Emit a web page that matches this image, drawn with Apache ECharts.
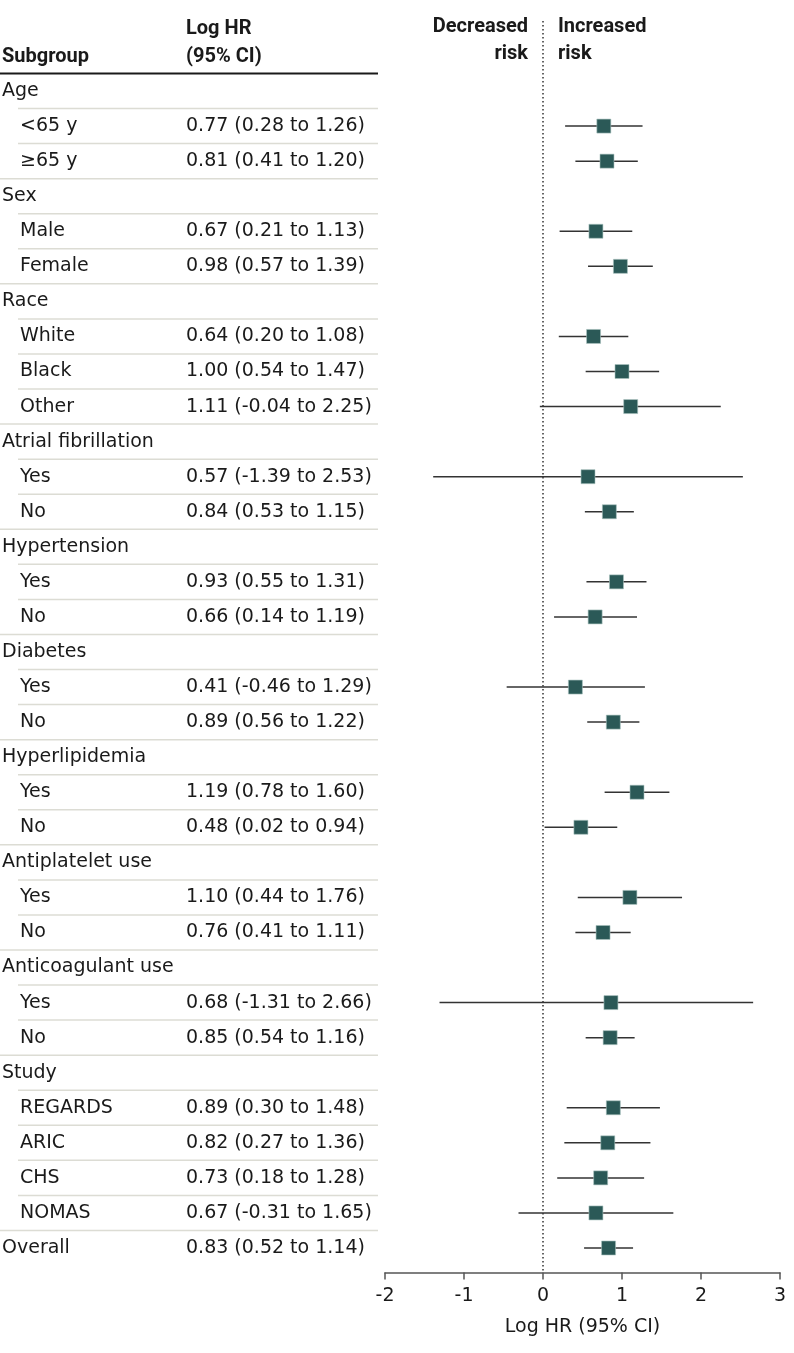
<!DOCTYPE html>
<html><head><meta charset="utf-8">
<script src="https://cdn.jsdelivr.net/npm/echarts@6/dist/echarts.min.js"></script>
<style>html,body{margin:0;padding:0;background:#fff}#c{width:794px;height:1353px}</style>
</head><body><div id="c"></div>
<script>
// ---------- data ----------
const subgroups = ['Age','<65 y','≥65 y','Sex','Male','Female','Race','White','Black','Other',
  'Atrial fibrillation','Yes','No','Hypertension','Yes','No','Diabetes','Yes','No',
  'Hyperlipidemia','Yes','No','Antiplatelet use','Yes','No','Anticoagulant use','Yes','No',
  'Study','REGARDS','ARIC','CHS','NOMAS','Overall'];
const indentLevel = [0,1,1,0,1,1,0,1,1,1,0,1,1,0,1,1,0,1,1,0,1,1,0,1,1,0,1,1,0,1,1,1,1,0];
const estLabels = ['','0.77 (0.28 to 1.26)','0.81 (0.41 to 1.20)','','0.67 (0.21 to 1.13)','0.98 (0.57 to 1.39)',
  '','0.64 (0.20 to 1.08)','1.00 (0.54 to 1.47)','1.11 (-0.04 to 2.25)',
  '','0.57 (-1.39 to 2.53)','0.84 (0.53 to 1.15)','','0.93 (0.55 to 1.31)','0.66 (0.14 to 1.19)',
  '','0.41 (-0.46 to 1.29)','0.89 (0.56 to 1.22)','','1.19 (0.78 to 1.60)','0.48 (0.02 to 0.94)',
  '','1.10 (0.44 to 1.76)','0.76 (0.41 to 1.11)','','0.68 (-1.31 to 2.66)','0.85 (0.54 to 1.16)',
  '','0.89 (0.30 to 1.48)','0.82 (0.27 to 1.36)','0.73 (0.18 to 1.28)','0.67 (-0.31 to 1.65)','0.83 (0.52 to 1.14)'];
// plotted point estimates (as drawn in the figure)
const est = [null,0.77,0.81,null,0.67,0.98,null,0.64,1.00,1.11,null,0.57,0.84,null,0.93,0.66,
  null,0.41,0.89,null,1.19,0.48,null,1.10,0.76,null,0.86,0.85,null,0.89,0.82,0.73,0.67,0.83];
const lo = [null,0.28,0.41,null,0.21,0.57,null,0.20,0.54,-0.04,null,-1.39,0.53,null,0.55,0.14,
  null,-0.46,0.56,null,0.78,0.02,null,0.44,0.41,null,-1.31,0.54,null,0.30,0.27,0.18,-0.31,0.52];
const hi = [null,1.26,1.20,null,1.13,1.39,null,1.08,1.47,2.25,null,2.53,1.15,null,1.31,1.19,
  null,1.29,1.22,null,1.60,0.94,null,1.76,1.11,null,2.66,1.16,null,1.48,1.36,1.28,1.65,1.14];
const xTicks = [-2,-1,0,1,2,3];
const headerTexts = {subgroup:'Subgroup', est1:'Log HR', est2:'(95% CI)', dec1:'Decreased', dec2:'risk', inc1:'Increased', inc2:'risk'};
const axisTitle = 'Log HR (95% CI)';

// ---------- layout ----------
const FONT = '"DejaVu Sans", sans-serif';
const HF = 'bold 20px Roboto, "DejaVu Sans Condensed", sans-serif';
const TXT = '#1a1a1a';
const ROW = 35.06, TOP = 73.5, N = subgroups.length;
const PLOT_YMIN = -1.5, PLOT_YMAX = 34.2;
const plotTop = TOP + PLOT_YMIN * ROW;
const plotH = (PLOT_YMAX - PLOT_YMIN) * ROW;

const chart = echarts.init(document.getElementById('c'), null, {renderer:'canvas'});

const tableData = subgroups.map((s, i) => [0, i]);
const ciData = [], ptData = [];
est.forEach((v, i) => {
  if (v !== null) { ciData.push([lo[i], hi[i], i + 0.5]); ptData.push([v, i + 0.5]); }
});

chart.setOption({
  animation: false,
  backgroundColor: '#fff',
  grid: [
    {left: 0, width: 378, top: TOP, height: N * ROW},
    {left: 385, width: 395, top: plotTop, height: plotH}
  ],
  xAxis: [
    {gridIndex: 0, type: 'value', min: 0, max: 378, show: false},
    {gridIndex: 1, type: 'value', min: xTicks[0], max: xTicks[xTicks.length - 1], interval: 1,
     position: 'bottom',
     axisLine: {show: true, onZero: false, lineStyle: {color: '#555', width: 1.5}},
     axisTick: {show: true, length: 7, lineStyle: {color: '#555', width: 1.5}},
     axisLabel: {fontSize: 19, fontFamily: FONT, color: TXT, margin: 14},
     splitLine: {show: false},
     name: axisTitle, nameLocation: 'middle', nameGap: 45,
     nameTextStyle: {fontSize: 19, fontFamily: FONT, color: TXT}}
  ],
  yAxis: [
    {gridIndex: 0, type: 'value', min: 0, max: N, inverse: true, show: false},
    {gridIndex: 1, type: 'value', min: PLOT_YMIN, max: PLOT_YMAX, inverse: true, show: false}
  ],
  graphic: [
    {type: 'text', left: 2, top: 47, style: {text: headerTexts.subgroup, font: HF, fill: TXT}},
    {type: 'text', left: 186, top: 18.5, style: {text: headerTexts.est1, font: HF, fill: TXT}},
    {type: 'text', left: 186, top: 46.5, style: {text: headerTexts.est2, font: HF, fill: TXT}},
    {type: 'text', right: 794 - 528, top: 17, style: {text: headerTexts.dec1, font: HF, fill: TXT, align: 'right'}},
    {type: 'text', right: 794 - 528, top: 43.5, style: {text: headerTexts.dec2, font: HF, fill: TXT, align: 'right'}},
    {type: 'text', left: 558, top: 17, style: {text: headerTexts.inc1, font: HF, fill: TXT}},
    {type: 'text', left: 558, top: 43.5, style: {text: headerTexts.inc2, font: HF, fill: TXT}}
  ],
  series: [
    {
      type: 'custom', xAxisIndex: 0, yAxisIndex: 0, silent: true,
      data: tableData,
      encode: {x: 0, y: 1},
      renderItem: function (params, api) {
        const i = api.value(1);
        const mid = api.coord([0, i + 0.5])[1];
        const children = [];
        const xName = api.coord([indentLevel[i] ? 20 : 2, 0])[0];
        children.push({type: 'text', style: {text: subgroups[i], x: xName, y: mid, font: '19px ' + FONT, fill: TXT, align: 'left', verticalAlign: 'middle'}});
        if (estLabels[i]) {
          children.push({type: 'text', style: {text: estLabels[i], x: api.coord([186, 0])[0], y: mid, font: '19px ' + FONT, fill: TXT, align: 'left', verticalAlign: 'middle'}});
        }
        if (i === 0) {
          const yt = api.coord([0, 0])[1];
          children.push({type: 'line', shape: {x1: api.coord([0, 0])[0], y1: yt, x2: api.coord([378, 0])[0], y2: yt}, style: {stroke: '#1a1a1a', lineWidth: 2}});
        }
        if (i < N - 1) {
          const yb = api.coord([0, i + 1])[1];
          const x0 = api.coord([indentLevel[i + 1] ? 18 : 0, 0])[0];
          children.push({type: 'line', shape: {x1: x0, y1: yb, x2: api.coord([378, 0])[0], y2: yb}, style: {stroke: '#dcdcd4', lineWidth: 1.5}});
        }
        return {type: 'group', children: children};
      }
    },
    {
      type: 'custom', xAxisIndex: 1, yAxisIndex: 1, silent: true, z: 3,
      data: ciData,
      encode: {x: [0, 1], y: 2},
      renderItem: function (params, api) {
        const a = api.coord([api.value(0), api.value(2)]);
        const b = api.coord([api.value(1), api.value(2)]);
        return {type: 'line', shape: {x1: a[0], y1: a[1], x2: b[0], y2: b[1]}, style: {stroke: '#333', lineWidth: 1.5}};
      }
    },
    {
      type: 'scatter', xAxisIndex: 1, yAxisIndex: 1, silent: true, z: 4,
      data: ptData, symbol: 'rect', symbolSize: 14,
      itemStyle: {color: '#2b5957', borderColor: '#a9c2bf', borderWidth: 0.6, opacity: 1},
      markLine: {
        silent: true, symbol: 'none', label: {show: false},
        lineStyle: {type: [1.5, 2.5], color: '#333', width: 1.5},
        data: [{xAxis: 0}]
      }
    }
  ]
});
</script></body></html>
